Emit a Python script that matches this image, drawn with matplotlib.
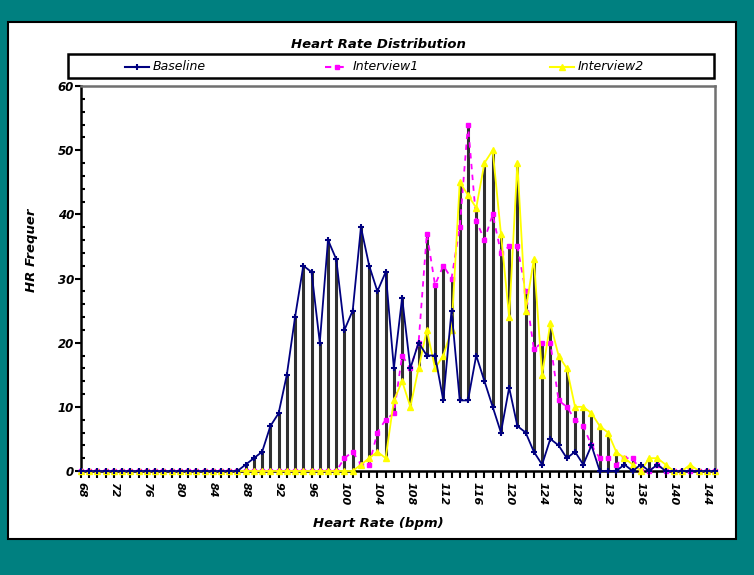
import matplotlib
matplotlib.use("Agg")
import matplotlib.pyplot as plt
from matplotlib.patches import Rectangle
from matplotlib.lines import Line2D

# ---- data ----
heart_rate = list(range(68, 146))
baseline = [0, 0, 0, 0, 0, 0, 0, 0, 0, 0,
            0, 0, 0, 0, 0, 0, 0, 0, 0, 0,
            1, 2, 3, 7, 9, 15, 24, 32, 31, 20,
            36, 33, 22, 25, 38, 32, 28, 31, 16, 27,
            16, 20, 18, 18, 11, 25, 11, 11, 18, 14,
            10, 6, 13, 7, 6, 3, 1, 5, 4, 2,
            3, 1, 4, 0, 0, 0, 1, 0, 1, 0,
            1, 0, 0, 0, 0, 0, 0, 0]
interview1 = [0] * 30 + [
            0, 0, 2, 3, 1, 1, 6, 8, 9, 18,
            16, 20, 37, 29, 32, 30, 38, 54, 39, 36,
            40, 34, 35, 35, 28, 19, 20, 20, 11, 10,
            8, 7, 4, 2, 2, 1, 2, 2, 0, 0,
            1, 0, 0, 0, 0, 0, 0, 0]
interview2 = [0] * 30 + [
            0, 0, 0, 0, 1, 2, 3, 2, 11, 14,
            10, 16, 22, 16, 18, 22, 45, 43, 41, 48,
            50, 37, 24, 48, 25, 33, 15, 23, 18, 16,
            10, 10, 9, 7, 6, 3, 2, 1, 0, 2,
            2, 1, 0, 0, 1, 0, 0, 0]
series_names = ["Baseline", "Interview1", "Interview2"]
title = "Heart Rate Distribution"
xlabel = "Heart Rate (bpm)"
ylabel = "HR Frequer"
xtick_labels = [str(v) if (v - 68) % 4 == 0 else "" for v in heart_rate]
yticks = [0, 10, 20, 30, 40, 50, 60]

FONT = ["Liberation Sans Narrow", "DejaVu Sans"]
plt.rcParams['font.family'] = FONT

W, H = 754, 575
fig = plt.figure(figsize=(W / 100, H / 100), dpi=100, facecolor="#008080")

# white panel
fig.patches.append(Rectangle((8 / W, 1 - 539 / H), (736 - 8) / W, (539 - 22) / H,
                             transform=fig.transFigure, facecolor="white",
                             edgecolor="black", linewidth=1.5, zorder=-10))

ax = fig.add_axes([81 / W, 1 - 471 / H, (715 - 81) / W, (471 - 86) / H])
ax.set_zorder(5)
ax.set_facecolor("white")

# high-low lines
lows = [min(a, b, c) for a, b, c in zip(baseline, interview1, interview2)]
highs = [max(a, b, c) for a, b, c in zip(baseline, interview1, interview2)]
ax.vlines(heart_rate, lows, highs, colors="#303030", linewidth=2.2, zorder=2)

ax.plot(heart_rate, baseline, color="#000080", linewidth=1.3, marker="+",
        markersize=5, markeredgewidth=1.5, zorder=4, clip_on=False)
ax.plot(heart_rate, interview1, color="#FF00FF", linewidth=1.3, linestyle=(0, (3, 3)),
        marker="s", markersize=3.5, zorder=3, clip_on=False)
ax.plot(heart_rate, interview2, color="#FFFF00", linewidth=1.3, marker="^",
        markersize=4, zorder=3, clip_on=False)

ax.set_xlim(68, 145)
ax.set_ylim(0, 60)
ax.set_xticks(heart_rate)
ax.set_xticklabels(xtick_labels, rotation=270, fontsize=8, fontstyle="italic",
                   fontweight="bold")
ax.set_yticks(yticks)
ax.set_yticklabels([str(v) for v in yticks], fontsize=8.5, fontstyle="italic",
                   fontweight="bold")
ax.set_yticks(range(0, 61, 2), minor=True)
ax.tick_params(axis="x", direction="out", length=5, width=1.5, pad=3)
ax.tick_params(axis="y", which="major", direction="out", length=4, width=1.5, pad=1)
ax.tick_params(axis="y", which="minor", direction="in", length=3, width=1.5)
for s in ["left", "bottom"]:
    ax.spines[s].set_color("black")
    ax.spines[s].set_linewidth(1.8)
for s in ["top", "right"]:
    ax.spines[s].set_color("#707070")
    ax.spines[s].set_linewidth(1.8)

fig.text(378 / W, 1 - 45 / H, title, ha="center", va="center", fontsize=9.5,
         fontweight="bold", fontstyle="italic")
fig.text(378 / W, 1 - 523 / H, xlabel, ha="center", va="center", fontsize=9.5,
         fontweight="bold", fontstyle="italic")
fig.text(31 / W, 1 - 250 / H, ylabel, ha="center", va="center", fontsize=9.5,
         fontweight="bold", fontstyle="italic", rotation=90)

# legend box
fig.patches.append(Rectangle((68 / W, 1 - 78 / H), (714 - 68) / W, (78 - 54) / H,
                             transform=fig.transFigure, facecolor="white",
                             edgecolor="black", linewidth=1.8, zorder=1))
legend_styles = [
    dict(color="#000080", linestyle="-", marker="+", markersize=5, markeredgewidth=1.5),
    dict(color="#FF00FF", linestyle=(0, (3, 3)), marker="s", markersize=3.5),
    dict(color="#FFFF00", linestyle="-", marker="^", markersize=4),
]
handle_x = [125, 325, 550]
ly = 1 - 67 / H
for name, st, hx in zip(series_names, legend_styles, handle_x):
    fig.lines.append(Line2D([hx / W, (hx + 24) / W], [ly, ly], transform=fig.transFigure,
                            linewidth=1.5, color=st["color"], linestyle=st["linestyle"],
                            zorder=3))
    fig.lines.append(Line2D([(hx + 12) / W], [ly], transform=fig.transFigure,
                            linestyle="none", color=st["color"], marker=st["marker"],
                            markersize=st["markersize"],
                            markeredgewidth=st.get("markeredgewidth", 1.0), zorder=3))
    fig.text((hx + 28) / W, ly, name, ha="left", va="center", fontsize=9,
             fontstyle="italic", zorder=3)

fig.savefig("out.png", dpi=100, facecolor=fig.get_facecolor())
